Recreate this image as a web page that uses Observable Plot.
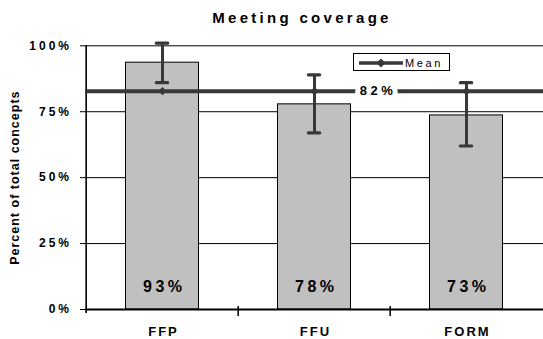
<!DOCTYPE html>
<html><head><meta charset="utf-8">
<script src="https://cdn.jsdelivr.net/npm/d3@7"></script>
<script src="https://cdn.jsdelivr.net/npm/@observablehq/plot@0.6"></script>
<style>
body{margin:0;background:#fff;font-family:"Liberation Sans",Arial,sans-serif;}
#wrap{position:relative;width:543px;height:339px;overflow:hidden;background:#fff;}
#title{position:relative;height:30px;}
#title span{position:absolute;left:0;top:0;width:543px;padding-left:61px;box-sizing:border-box;text-align:center;line-height:36px;font-size:15px;font-weight:bold;letter-spacing:3.3px;color:#000;white-space:nowrap;}
#chart svg{display:block;}
#legend{position:absolute;left:353px;top:53px;width:97px;height:18px;box-sizing:border-box;border:1px solid #000;background:#fff;}
#legend svg{position:absolute;left:0;top:0;}
</style></head><body>
<div id="wrap">
  <div id="title"><span>Meeting coverage</span></div>
  <div id="chart"></div>
  <div id="legend"><svg width="95" height="16">
    <line x1="5" x2="49" y1="9" y2="9" stroke="#383838" stroke-width="3.5"/>
    <polygon points="27,4.5 31.5,9 27,13.5 22.5,9" fill="#383838"/>
    <text x="51" y="13" font-size="11" style="letter-spacing:2.6px" fill="#000" font-family="Liberation Sans, Arial, sans-serif">Mean</text>
  </svg></div>
</div>
<script>
const categories = ["FFP", "FFU", "FORM"];
const coverage = [93.6, 77.8, 73.6];
const coverageLabels = ["93%", "78%", "73%"];
const errLow = [86, 67, 62];
const errHigh = [101, 89, 86];
const meanValue = 82.8;
const meanLabel = "82%";
const yTicks = [0, 25, 50, 75, 100];
const yTitle = "Percent of total concepts";

const data = categories.map((c, i) => ({cat: c, v: coverage[i], label: coverageLabels[i], lo: errLow[i], hi: errHigh[i], mean: meanValue}));

const W = 543, H = 309, ML = 85, MR = 0, MT = 15.3, MB = 30;
const half = (W - ML - MR) / categories.length / 2;
const dark = "#383838";
const font = '"Liberation Sans", Arial, sans-serif';
const fmtPct = d => d + "%";

const chart = Plot.plot({
  width: W, height: H,
  marginLeft: ML, marginRight: MR, marginTop: MT, marginBottom: MB,
  style: {fontFamily: font, background: "white", overflow: "visible", color: "#000"},
  x: {domain: categories, padding: 0, axis: null, label: null},
  y: {domain: [0, 100], axis: null, label: null},
  marks: [
    Plot.gridY(yTicks, {stroke: "#000", strokeOpacity: 1, strokeWidth: 1}),
    Plot.barY(data, {x: "cat", y: "v", fill: "#c0c0c0", stroke: "#000", strokeWidth: 1, insetLeft: 39.5, insetRight: 39.5}),
    Plot.ruleY([0], {stroke: "#000", strokeWidth: 1.8}),
    Plot.ruleX([categories[0]], {dx: -half, stroke: "#000", strokeWidth: 1.6, insetBottom: -4}),
    Plot.axisY(yTicks, {label: null, tickSize: 5, tickPadding: 8.5, tickFormat: fmtPct, fontSize: 12, fontWeight: "bold"}),
    Plot.axisX(categories, {label: null, tickSize: 0, tickPadding: 17, fontSize: 13, fontWeight: "bold", dx: 1}),
    Plot.axisX(categories.slice(1), {label: null, tickSize: 10, dx: -half, dy: -3, tickFormat: () => "", strokeWidth: 1.5}),
    Plot.ruleX(data, {x: "cat", y1: "lo", y2: "hi", stroke: dark, strokeWidth: 3}),
    Plot.tickY(data, {x: "cat", y: "lo", stroke: dark, strokeWidth: 3.2, insetLeft: half - 6, insetRight: half - 6, strokeLinecap: "round"}),
    Plot.tickY(data, {x: "cat", y: "hi", stroke: dark, strokeWidth: 3.2, insetLeft: half - 6, insetRight: half - 6, strokeLinecap: "round"}),
    Plot.ruleY([meanValue], {stroke: dark, strokeWidth: 4}),
    Plot.dot(data, {x: "cat", y: "mean", symbol: "diamond2", r: 3.8, fill: dark, stroke: null}),
    Plot.text([{cat: categories[1], mean: meanValue, t: meanLabel}], {x: "cat", y: "mean", text: "t", dx: 63.5, fontSize: 13, fontWeight: "bold", fill: "#000", stroke: "white", strokeWidth: 10, strokeLinejoin: "round", paintOrder: "stroke", lineAnchor: "middle"}),
    Plot.text(data, {x: "cat", text: "label", frameAnchor: "bottom", dy: -23, dx: 1.75, fontSize: 16, fontWeight: "bold", fill: "#000", lineAnchor: "middle"}),
    Plot.text([yTitle], {text: d => d, frameAnchor: "left", textAnchor: "middle", dx: -70.5, rotate: -90, fontSize: 12.5, fontWeight: "bold", fill: "#000", lineAnchor: "middle"})
  ]
});
document.getElementById("chart").appendChild(chart);
const tickLabels = yTicks.map(fmtPct);
chart.querySelectorAll("text").forEach(t => {
  const s = t.textContent;
  let ls = null;
  if (tickLabels.includes(s)) ls = "3px";
  else if (categories.includes(s)) ls = "2px";
  else if (s === meanLabel || coverageLabels.includes(s)) ls = "3.5px";
  else if (s === yTitle) ls = "1px";
  if (ls) { t.style.letterSpacing = ls; t.setAttribute("letter-spacing", ls); }
});
</script>
</body></html>
